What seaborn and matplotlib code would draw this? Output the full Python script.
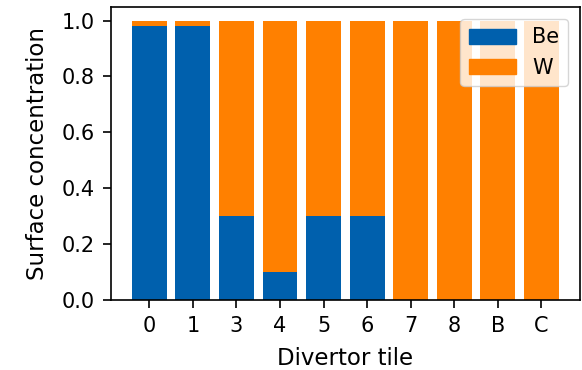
import numpy as np
import pandas as pd
import matplotlib
matplotlib.use("Agg")
import matplotlib.pyplot as plt
import seaborn as sns
from matplotlib.patches import Patch

plt.rcParams["font.family"] = ["DejaVu Sans"]
plt.rcParams["font.size"] = 15
plt.rcParams["axes.linewidth"] = 1.2
plt.rcParams["xtick.major.size"] = 6
plt.rcParams["ytick.major.size"] = 6
plt.rcParams["xtick.major.width"] = 1.2
plt.rcParams["ytick.major.width"] = 1.2
plt.rcParams["xtick.major.pad"] = 5.5
plt.rcParams["ytick.major.pad"] = 5.5

tiles = ["0", "1", "3", "4", "5", "6", "7", "8", "B", "C"]
be_conc = [0.98, 0.98, 0.3, 0.1, 0.3, 0.3, 0.0, 0.0, 0.0, 0.0]
w_conc = [0.02, 0.02, 0.7, 0.9, 0.7, 0.7, 1.0, 1.0, 1.0, 1.0]

be_color = "#0060ad"
w_color = "#ff8000"

df = pd.DataFrame({"tile": tiles, "Be": be_conc, "W": w_conc})
df["total"] = df["Be"] + df["W"]

fig = plt.figure(figsize=(5.82, 3.70), dpi=100)
ax = fig.add_axes([0.19, 0.19, 0.807, 0.792])

# stacked: full height in W colour, Be drawn over the bottom part
sns.barplot(data=df, x="tile", y="total", color=w_color, saturation=1,
            width=0.8, linewidth=0, ax=ax)
sns.barplot(data=df, x="tile", y="Be", color=be_color, saturation=1,
            width=0.8, linewidth=0, ax=ax)

ax.set_xlim(-0.89, 9.89)
ax.set_ylim(0, 1.05)
ax.set_yticks([0.0, 0.2, 0.4, 0.6, 0.8, 1.0])
ax.tick_params(labelsize=15)
ax.set_xlabel("Divertor tile", fontsize=16.5, labelpad=8)
ax.set_ylabel("Surface concentration", fontsize=16.5, labelpad=9)

handles = [Patch(color=be_color, label="Be"), Patch(color=w_color, label="W")]
ax.legend(handles=handles, loc="upper right", fontsize=15,
          handlelength=2.25, handleheight=0.75, borderaxespad=0.6)

fig.savefig("out.png", dpi=100)
